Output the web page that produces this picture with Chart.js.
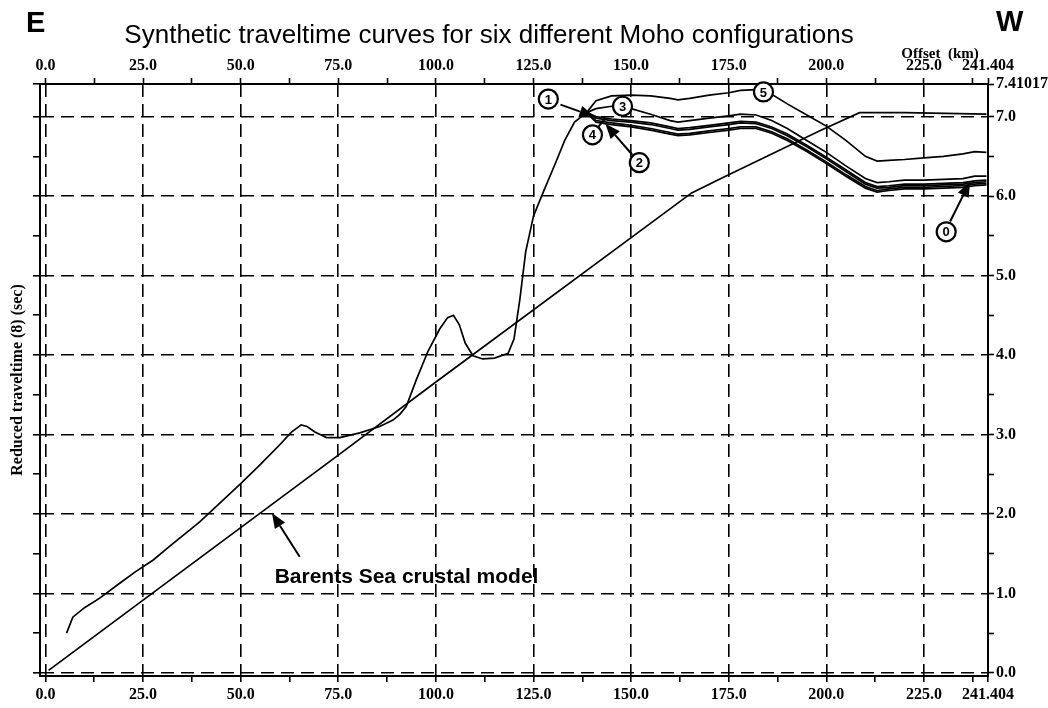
<!DOCTYPE html>
<html>
<head>
<meta charset="utf-8">
<script src="https://cdn.jsdelivr.net/npm/chart.js@4.4.1/dist/chart.umd.min.js"></script>
<style>
  html, body { margin: 0; padding: 0; background: #fff; }
  #wrap { width: 1048px; height: 708px; }
</style>
</head>
<body>
<div id="wrap"><canvas id="chart" width="1048" height="708"></canvas></div>
<script>
// Axis ticks
const xTicks = [0, 12.5, 25, 37.5, 50, 62.5, 75, 87.5, 100, 112.5, 125, 137.5, 150, 162.5,
                175, 187.5, 200, 212.5, 225, 237.5, 241.404];
const yTicks = [0, 0.5, 1, 1.5, 2, 2.5, 3, 3.5, 4, 4.5, 5, 5.5, 6, 6.5, 7, 7.41017];

// Barents Sea crustal model (offset km / reduced time s)
const barentsKm = [0.8, 25, 75, 100, 165.5, 173.4, 198.2, 208.5, 220, 241];
const barentsT  = [0.03, 0.915, 2.74, 3.66, 6.04, 6.23, 6.82, 7.05, 7.05, 7.03];

// Moho curves, common part before they split
const commonKm = [5.4, 7.0, 10.0, 13.9, 19.1, 23.0, 27.6, 32.0, 37.0, 39.5, 45.0, 50.0, 55.0, 60.0,
                  63.0, 65.5, 67.0, 69.0, 72.0, 75.4, 80.5, 85.6, 89.0, 90.7, 92.4, 95.0, 98.0,
                  101.0, 103.0, 104.5, 106.0, 107.5, 109.5, 112.0, 115.0, 118.5, 120.0, 121.5,
                  123.0, 125.0, 127.5, 130.5, 133.0, 135.5, 138.6];
const commonT  = [0.50, 0.70, 0.82, 0.94, 1.13, 1.27, 1.42, 1.60, 1.80, 1.90, 2.15, 2.38, 2.62, 2.87,
                  3.03, 3.12, 3.10, 3.03, 2.96, 2.96, 3.02, 3.10, 3.18, 3.25, 3.35, 3.69, 4.05,
                  4.33, 4.47, 4.50, 4.38, 4.15, 3.99, 3.95, 3.96, 4.02, 4.20, 4.70,
                  5.30, 5.75, 6.05, 6.40, 6.70, 6.93, 7.05];

// Six Moho configurations after the split
const branchKm = [138.6, 141, 145, 150, 155, 160, 162, 165, 170, 175, 178, 182, 186, 190, 195,
                  200, 205, 210, 213, 216, 220, 225, 230, 235, 238, 241];
const curve5T = [7.05, 7.20, 7.26, 7.27, 7.26, 7.23, 7.21, 7.23, 7.27, 7.30, 7.33, 7.34, 7.28, 7.16, 7.02,
                 6.88, 6.70, 6.50, 6.44, 6.45, 6.46, 6.48, 6.50, 6.53, 6.56, 6.55];
const curve3T = [7.05, 7.10, 7.13, 7.10, 7.03, 6.95, 6.93, 6.95, 6.98, 7.01, 7.03, 7.02, 6.95, 6.85, 6.70,
                 6.55, 6.38, 6.22, 6.17, 6.18, 6.20, 6.20, 6.21, 6.22, 6.25, 6.25];
const curve1T = [7.05, 7.00, 6.97, 6.95, 6.92, 6.87, 6.85, 6.86, 6.89, 6.92, 6.94, 6.93, 6.87, 6.78, 6.64,
                 6.49, 6.33, 6.17, 6.12, 6.13, 6.15, 6.15, 6.16, 6.17, 6.19, 6.20];
const curve0T = [7.05, 6.98, 6.95, 6.93, 6.90, 6.85, 6.83, 6.84, 6.87, 6.90, 6.92, 6.91, 6.85, 6.76, 6.62,
                 6.47, 6.31, 6.15, 6.10, 6.11, 6.13, 6.13, 6.14, 6.15, 6.17, 6.18];
const curve4T = [7.05, 6.95, 6.92, 6.89, 6.85, 6.80, 6.78, 6.79, 6.82, 6.85, 6.87, 6.87, 6.81, 6.72, 6.58,
                 6.43, 6.27, 6.12, 6.07, 6.09, 6.11, 6.11, 6.12, 6.13, 6.15, 6.16];
const curve2T = [7.05, 6.93, 6.90, 6.87, 6.83, 6.78, 6.76, 6.77, 6.80, 6.83, 6.85, 6.85, 6.79, 6.70, 6.56,
                 6.41, 6.25, 6.10, 6.05, 6.07, 6.09, 6.09, 6.10, 6.11, 6.13, 6.14];

// Annotations, in data units
const circleLabels = [
    { text: '1', km: 128.8, t: 7.22 },
    { text: '3', km: 147.8, t: 7.13 },
    { text: '4', km: 140.1, t: 6.77 },
    { text: '2', km: 152.1, t: 6.42 },
    { text: '5', km: 183.9, t: 7.31 },
    { text: '0', km: 230.7, t: 5.55 }
];
const arrows = [
    { from: [131.9, 7.15], to: [140.6, 7.00] },
    { from: [150.3, 6.52], to: [143.4, 6.91] },
    { from: [231.7, 5.68], to: [236.8, 6.18] },
    { from: [65.1, 1.46], to: [58.0, 2.01] }
];
const connectors = [{ from: [141.6, 6.87], to: [143.4, 6.98] }];

function toPoints(xs, ys) {
    return xs.map((x, i) => ({ x: x, y: ys[i] }));
}

function lineSet(label, xs, ys) {
    return {
        label: label,
        data: toPoints(xs, ys),
        borderColor: '#000',
        borderWidth: 1.7,
        pointRadius: 0,
        fill: false,
        tension: 0
    };
}

const isMajorX = v => v % 25 === 0 && v <= 225;
const isMajorY = v => Number.isInteger(v);

function xLabel(v) {
    if (v === 241.404) return '241.404';
    return v % 25 === 0 ? v.toFixed(1) : '';
}

const tickFont = { family: "'Liberation Serif', serif", size: 16, weight: 'bold' };

function drawArrow(ctx, x1, y1, x2, y2) {
    const head = 15, hw = 6;
    const a = Math.atan2(y2 - y1, x2 - x1);
    const bx = x2 - head * Math.cos(a), by = y2 - head * Math.sin(a);
    ctx.beginPath();
    ctx.moveTo(x1, y1);
    ctx.lineTo(bx, by);
    ctx.stroke();
    ctx.beginPath();
    ctx.moveTo(x2, y2);
    ctx.lineTo(bx + hw * Math.sin(a), by - hw * Math.cos(a));
    ctx.lineTo(bx - hw * Math.sin(a), by + hw * Math.cos(a));
    ctx.closePath();
    ctx.fill();
}

const annotations = {
    id: 'annotations',
    afterDatasetsDraw(chart) {
        const ctx = chart.ctx;
        const xs = chart.scales.x, ys = chart.scales.y;
        const px = v => xs.getPixelForValue(v);
        const py = v => ys.getPixelForValue(v);
        ctx.save();
        ctx.strokeStyle = '#000';
        ctx.fillStyle = '#000';
        ctx.lineWidth = 2;
        arrows.forEach(a => drawArrow(ctx, px(a.from[0]), py(a.from[1]), px(a.to[0]), py(a.to[1])));
        connectors.forEach(c => {
            ctx.beginPath();
            ctx.moveTo(px(c.from[0]), py(c.from[1]));
            ctx.lineTo(px(c.to[0]), py(c.to[1]));
            ctx.stroke();
        });
        // circled curve numbers
        circleLabels.forEach(c => {
            const cx = px(c.km), cy = py(c.t);
            ctx.beginPath();
            ctx.arc(cx, cy, 9.5, 0, Math.PI * 2);
            ctx.fillStyle = '#fff';
            ctx.fill();
            ctx.lineWidth = 2.2;
            ctx.stroke();
            ctx.fillStyle = '#000';
            ctx.font = "bold 13px 'Liberation Sans', Arial, sans-serif";
            ctx.textAlign = 'center';
            ctx.textBaseline = 'middle';
            ctx.fillText(c.text, cx, cy + 1);
        });
        // model label
        ctx.font = "bold 21px 'Liberation Sans', Arial, sans-serif";
        ctx.textAlign = 'left';
        ctx.textBaseline = 'alphabetic';
        ctx.fillText('Barents Sea crustal model', px(58.7), py(1.13));
        ctx.restore();
    },
    afterDraw(chart) {
        const ctx = chart.ctx;
        ctx.save();
        ctx.fillStyle = '#000';
        ctx.textBaseline = 'alphabetic';
        ctx.textAlign = 'center';
        ctx.font = "26px 'Liberation Sans', Arial, sans-serif";
        ctx.fillText('Synthetic traveltime curves for six different Moho configurations', 489, 43);
        ctx.font = "bold 15px 'Liberation Serif', serif";
        ctx.fillText('Offset  (km)', 940, 58);
        ctx.textAlign = 'left';
        ctx.font = "bold 29px 'Liberation Sans', Arial, sans-serif";
        ctx.fillText('E', 26, 32);
        ctx.fillText('W', 996, 31);
        ctx.restore();
    }
};

const xAxisBase = {
    type: 'linear',
    min: -1.4,
    max: 241.404,
    afterBuildTicks: s => { s.ticks = xTicks.map(v => ({ value: v })); },
    ticks: {
        font: tickFont, color: '#000', padding: 3,
        autoSkip: false, maxRotation: 0, minRotation: 0,
        callback: v => xLabel(v)
    },
    border: { display: true, color: '#000', width: 2, dash: [13, 7] }
};

const yAxisBase = {
    type: 'linear',
    min: -0.04,
    max: 7.41017,
    afterBuildTicks: s => { s.ticks = yTicks.map(v => ({ value: v })); },
    border: { display: true, color: '#000', width: 2, dash: [13, 7] }
};

new Chart(document.getElementById('chart'), {
    type: 'line',
    data: {
        datasets: [
            lineSet('Barents Sea crustal model', barentsKm, barentsT),
            lineSet('Moho (common)', commonKm, commonT),
            lineSet('Moho 0', branchKm, curve0T),
            lineSet('Moho 1', branchKm, curve1T),
            lineSet('Moho 2', branchKm, curve2T),
            lineSet('Moho 3', branchKm, curve3T),
            lineSet('Moho 4', branchKm, curve4T),
            lineSet('Moho 5', branchKm, curve5T)
        ]
    },
    options: {
        responsive: false,
        animation: false,
        devicePixelRatio: 1,
        layout: { padding: 0 },
        plugins: {
            legend: { display: false },
            title: { display: false },
            tooltip: { enabled: false }
        },
        scales: {
            x: Object.assign({}, xAxisBase, {
                position: 'bottom',
                afterFit: s => { s.height = 32; },
                grid: {
                    color: c => isMajorX(c.tick.value) ? '#000' : 'rgba(0,0,0,0)',
                    lineWidth: 1.6,
                    tickColor: '#000',
                    tickWidth: 1.6,
                    tickLength: 6
                }
            }),
            x2: Object.assign({}, xAxisBase, {
                position: 'top',
                afterFit: s => { s.height = 84; },
                grid: { drawOnChartArea: false, tickColor: '#000', tickWidth: 1.6, tickLength: 6 }
            }),
            y: Object.assign({}, yAxisBase, {
                position: 'left',
                afterFit: s => { s.width = 40; },
                ticks: { display: false },
                title: {
                    display: true,
                    text: 'Reduced traveltime (8) (sec)',
                    color: '#000',
                    font: { family: "'Liberation Serif', serif", size: 16, weight: 'bold' },
                    padding: { top: 8, bottom: 0 }
                },
                grid: {
                    color: c => isMajorY(c.tick.value) ? '#000' : 'rgba(0,0,0,0)',
                    lineWidth: 1.6,
                    tickColor: '#000',
                    tickWidth: 1.6,
                    tickLength: 7
                }
            }),
            y2: Object.assign({}, yAxisBase, {
                position: 'right',
                afterFit: s => { s.width = 60; },
                ticks: {
                    font: tickFont, color: '#000', padding: 2, autoSkip: false,
                    callback: v => v === 7.41017 ? '7.41017' : (isMajorY(v) ? v.toFixed(1) : '')
                },
                grid: { drawOnChartArea: false, tickColor: '#000', tickWidth: 1.6, tickLength: 6 }
            })
        }
    },
    plugins: [annotations]
});
</script>
</body>
</html>
